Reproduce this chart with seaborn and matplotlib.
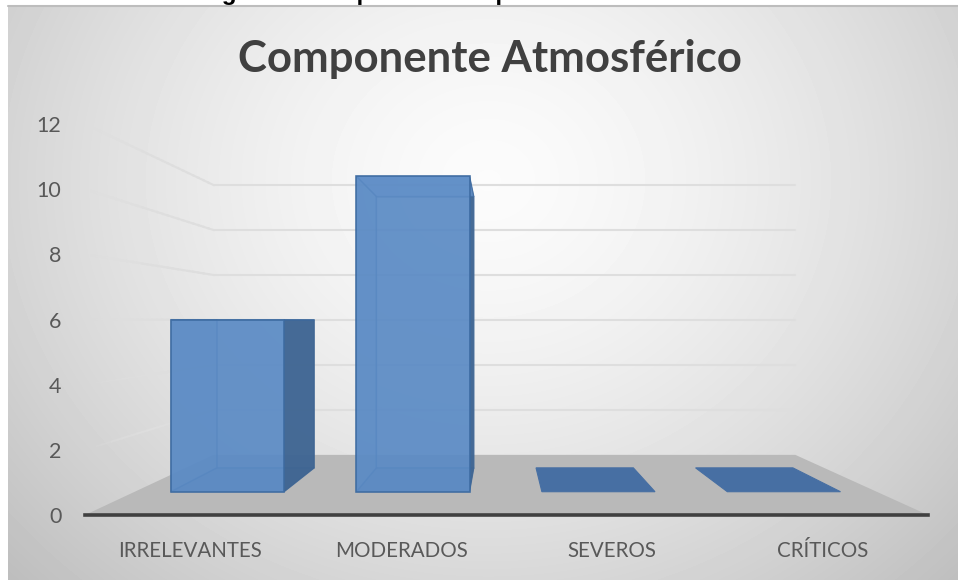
import numpy as np
import pandas as pd
import matplotlib
matplotlib.use('Agg')
import matplotlib.pyplot as plt
import seaborn as sns
from matplotlib.patches import Polygon
from matplotlib.transforms import Affine2D, IdentityTransform

categories = ['IRRELEVANTES', 'MODERADOS', 'SEVEROS', 'CRÍTICOS']
impactos = [6, 11, 0, 0]
y_ticks = [0, 2, 4, 6, 8, 10, 12]
titulo = 'Componente Atmosférico'
leyenda = 'Figura 4.6. Impactos Componente Atmosférico'

W, H = 958, 580
sns.set_theme(style='white')
plt.rcParams['font.family'] = ['Lato', 'DejaVu Sans']

fig = plt.figure(figsize=(W / 100, H / 100), dpi=100, facecolor='white')

# leyenda de la figura, cortada por el grafico
fig.text(200 / W, 1.0, leyenda, ha='left', va='baseline', fontsize=17.5,
         fontweight='bold', family='Liberation Sans', color='black', zorder=-1)

# fondo con degradado radial
bg = fig.add_axes([8 / W, 0, 950 / W, 575 / H])
yy, xx = np.mgrid[0:575, 0:950]
d = np.sqrt(((xx - 480) / 480) ** 2 + ((yy - 175) / 420) ** 2)
gris = np.clip(0.985 - 0.15 * d ** 1.5, 0.70, 0.985)
bg.imshow(gris, cmap='gray', vmin=0, vmax=1, aspect='auto')
bg.axis('off')
# borde superior gris
fig.add_artist(plt.Line2D([8 / W, 1], [1 - 5.5 / H, 1 - 5.5 / H], color='#bdbdbd', lw=1.5))

ax = fig.add_axes([85 / W, (H - 515) / H, 843 / W, 391 / H])
ax.patch.set_alpha(0)

df = pd.DataFrame({'categoria': categories, 'valor': impactos})
sns.barplot(data=df, x='categoria', y='valor', ax=ax, width=0.61, color='#5a8ac4',
            saturation=1, alpha=0.88, linewidth=1.2, edgecolor='#3c6aa0')
ax.set_xlim(-0.5, 3.5)
ax.set_ylim(0, 12)
ax.set_yticks(y_ticks)
ax.set_xlabel('')
ax.set_ylabel('')
ax.tick_params(axis='y', length=0, pad=17, labelsize=15.5, labelcolor='#595959')
ax.tick_params(axis='x', length=0, pad=19, labelsize=14.8, labelcolor='#595959')
sns.despine(ax=ax, left=True)
ax.spines['bottom'].set_color('#404040')
ax.spines['bottom'].set_linewidth(2.6)
ax.spines['bottom'].set_zorder(8)

# perspectiva: todo converge hacia el mismo punto
vx, vy = 500, H - 321
FONDO, FRENTE, ATRAS = 0.69, 0.88, 0.757


def depth(s):
    return ax.transData + Affine2D().translate(-vx, -vy).scale(s).translate(vx, vy)


def pts(s, coords):
    return depth(s).transform(coords)


def cara(xy, **kw):
    ax.add_patch(Polygon(xy, closed=True, transform=IdentityTransform(), clip_on=False, **kw))


# piso gris
cara(np.vstack([pts(1, [(-0.5, 0), (3.5, 0)]), pts(FONDO, [(3.5, 0), (-0.5, 0)])]),
     facecolor='#b9b9b9', edgecolor='none', zorder=1)

# lineas de la pared del fondo y del lateral, que se desvanecen hacia el fondo claro
linea = 0.87
for v in y_ticks[1:]:
    ax.plot([-0.5, 3.5], [v, v], transform=depth(FONDO), color=str(linea), lw=1.5, clip_on=False, zorder=1)
    a, b = pts(1, [(-0.5, v)])[0], pts(FONDO, [(-0.5, v)])[0]
    a = a + (b - a) * 0.05
    cortes = np.linspace(0, 1, 25)
    for t0, t1 in zip(cortes[:-1], cortes[1:]):
        p0, p1 = a + (b - a) * t0, a + (b - a) * t1
        fila = int(np.clip(H - p0[1] - 5, 0, 574))
        col = int(np.clip(p0[0] - 8, 0, 949))
        tono = gris[fila, col] + (linea - gris[fila, col]) * min(1, t1 * 2)
        ax.plot([p0[0], p1[0]], [p0[1], p1[1]], transform=IdentityTransform(), color=str(tono),
                lw=1.5, clip_on=False, zorder=1, solid_capstyle='projecting')

# caras de cada barra a partir de lo que dibujo seaborn
borde = '#3c6aa0'
for bar, valor in zip(ax.patches[:len(impactos)], impactos):
    x0, x1 = bar.get_x(), bar.get_x() + bar.get_width()
    bar.set_transform(depth(FRENTE))
    bar.set_zorder(6)
    piso = np.vstack([pts(FRENTE, [(x0, 0), (x1, 0)]), pts(ATRAS, [(x1, 0), (x0, 0)])])
    if valor == 0:
        bar.set_visible(False)
        cara(piso, facecolor='#476fa3', edgecolor='#476fa3', lw=0.8, zorder=3)
        continue
    atras = pts(ATRAS, [(x0, 0), (x1, 0), (x1, valor), (x0, valor)])
    cara(atras, facecolor='#5f90cc', alpha=0.35, edgecolor=borde, lw=1.2, zorder=3)
    cara(np.vstack([pts(FRENTE, [(x0, 0), (x0, valor)]), pts(ATRAS, [(x0, valor), (x0, 0)])]),
         facecolor='#5f90cc', alpha=0.5, edgecolor=borde, lw=1.0, zorder=3)
    cara(piso, facecolor='#4a78b0', alpha=0.5, edgecolor=borde, lw=1.0, zorder=4)
    # cara derecha mas oscura
    cara(np.vstack([pts(FRENTE, [(x1, 0), (x1, valor)]), pts(ATRAS, [(x1, valor), (x1, 0)])]),
         facecolor='#3f6592', alpha=0.95, edgecolor='#3f6592', lw=0.6, zorder=5)
    # tapa, vista desde abajo a traves del frente
    cara(np.vstack([pts(FRENTE, [(x0, valor), (x1, valor)]), pts(ATRAS, [(x1, valor), (x0, valor)])]),
         facecolor='#6f9fdb', alpha=0.6, edgecolor=borde, lw=1.0, zorder=5)

fig.text(490 / W, 1 - 59 / H, titulo, ha='center', va='center', fontsize=31.5,
         fontweight='bold', color='#404040')

fig.savefig('out.png', dpi=100)
